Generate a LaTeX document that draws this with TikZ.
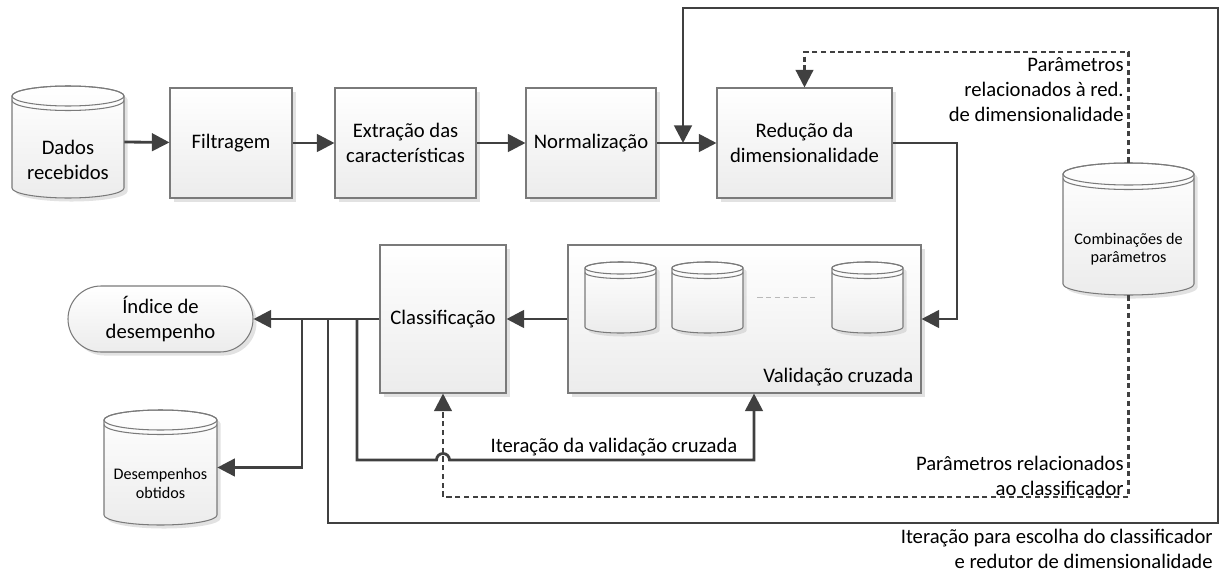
\documentclass[tikz,border=0pt]{standalone}
\usepackage{fontspec}
\setmainfont{Carlito}
\usetikzlibrary{arrows.meta,shadows,calc}

\definecolor{linha}{HTML}{404040}
\definecolor{borda}{HTML}{7A7A7A}

% cilindro (banco de dados): nome, x, y, largura, altura, raio y da tampa
\newcommand{\dbcyl}[6]{%
	\begin{scope}[shift={(#2,#3)}]
		\path[dbshape] (-#4/2,#5/2-#6) -- (-#4/2,-#5/2+#6)
			arc[start angle=180, end angle=360, x radius=#4/2, y radius=#6]
			-- (#4/2,#5/2-#6)
			arc[start angle=0, end angle=180, x radius=#4/2, y radius=#6] -- cycle;
		\draw[dbline] (0,#5/2-#6) ellipse[x radius=#4/2, y radius=#6];
		\draw[dbline] (-#4/2,#5/2-#6-0.09)
			arc[start angle=180, end angle=360, x radius=#4/2, y radius=#6];
	\end{scope}
	\node[minimum width=#4cm, minimum height=#5cm, inner sep=0pt] (#1) at (#2,#3) {};
}

\tikzset{
	sombra/.style={drop shadow={shadow xshift=2pt, shadow yshift=-2pt, fill=gray!45, opacity=0.5}},
	bloco/.style={rectangle, draw=borda, line width=0.6pt, top color=white, bottom color=gray!15,
		sombra, align=center, inner sep=2pt, font=\fontsize{11.75}{14.2}\selectfont},
	dbshape/.style={draw=borda, line width=0.6pt, top color=white, bottom color=gray!15, sombra},
	dbline/.style={draw=borda, line width=0.6pt},
	fluxo/.style={draw=linha, line width=1.6pt, -{Triangle[length=10pt, width=10pt]}},
	param/.style={draw=linha, line width=1.3pt, dash pattern=on 3pt off 2pt,
		-{Triangle[length=10pt, width=10pt]}},
	rotulo/.style={align=right, inner sep=0pt, font=\fontsize{11.75}{14.2}\selectfont},
	dbtexto/.style={align=center, inner sep=0pt, font=\fontsize{11.75}{14.2}\selectfont},
	dbpequeno/.style={align=center, inner sep=0pt, font=\fontsize{9.2}{10.4}\selectfont}
}

\begin{document}
\begin{tikzpicture}
			\useasboundingbox (0,0) rectangle (24.42,-11.46);

			% Cadeia de pre-processamento
			\dbcyl{dados}{1.36}{-2.84}{2.24}{2.24}{0.2}
			\node[dbtexto] (dados-txt) at ([yshift=-0.36cm]dados.center) {Dados\\recebidos};
			\node[bloco, minimum width=2.44cm, minimum height=2.2cm] (filtragem) at (4.62,-2.86) {Filtragem};
			\node[bloco, minimum width=2.82cm, minimum height=2.2cm] (extracao) at (8.11,-2.86) {Extração das\\características};
			\node[bloco, minimum width=2.6cm, minimum height=2.2cm] (normaliza) at (11.82,-2.86) {Normalização};
			\node[bloco, minimum width=3.5cm, minimum height=2.2cm] (reducao) at (16.09,-2.86) {Redução da\\dimensionalidade};

			% Classificacao e validacao cruzada
			\node[bloco, minimum width=2.52cm, minimum height=2.96cm] (classif) at (8.86,-6.38) {Classificação};
			\node[bloco, minimum width=7.06cm, minimum height=2.96cm] (validacao) at (14.89,-6.38) {};
			\node[rotulo, anchor=base east] (validacao-txt) at ($(validacao.south east)+(-0.16,0.22)$) {Validação cruzada};
			\dbcyl{v1}{12.41}{-5.95}{1.42}{1.42}{0.12}
			\dbcyl{v2}{14.15}{-5.95}{1.42}{1.42}{0.12}
			\dbcyl{vn}{17.35}{-5.95}{1.42}{1.42}{0.12}
			\draw[gray!55, line width=0.8pt, dash pattern=on 3pt off 2pt] ($(v2.east)+(0.28,0)$) -- ($(vn.west)+(-0.28,0)$);

			% Saidas
			\node[bloco, minimum width=3.7cm, minimum height=1.32cm, rounded corners=0.66cm] (indice) at (3.21,-6.38) {Índice de\\desempenho};
			\dbcyl{desemp}{3.21}{-9.35}{2.26}{2.3}{0.2}
			\node[dbpequeno] (desemp-txt) at ([yshift=-0.32cm]desemp.center) {Desempenhos\\obtidos};

			% Parametros
			\dbcyl{combina}{22.57}{-4.58}{2.62}{2.64}{0.22}
			\node[dbpequeno] (combina-txt) at ([yshift=-0.4cm]combina.center) {Combinações de\\parâmetros};

			% Pontos auxiliares
			\coordinate (j0) at (6.04,-6.38);
			\coordinate (j1) at (6.56,-6.38);
			\coordinate (j2) at (7.14,-6.38);
			\coordinate (hopA) at (8.73,-9.2);
			\coordinate (cantoB) at (15.08,-9.2);
			\coordinate (cantoC) at (19.14,-6.38);
			\coordinate (cantoD) at (24.36,-10.46);
			\coordinate (cantoE) at (13.66,-0.16);
			\coordinate (entrada) at (13.66,-2.86);
			\coordinate (topodash) at (16.09,-1.04);
			\coordinate (basedash) at (8.86,-9.94);

			% Fluxo principal
			\draw[fluxo] (dados.east) -- (filtragem);
			\draw[fluxo] (filtragem) -- (extracao);
			\draw[fluxo] (extracao) -- (normaliza);
			\draw[fluxo] (normaliza) -- (reducao);
			\draw[fluxo] (reducao.east) -| (cantoC) -- (validacao.east);
			\draw[fluxo] (validacao) -- (classif);
			\draw[fluxo] (classif) -- (indice);
			\draw[fluxo] (j0) |- (desemp.east);

			% Parametros relacionados (tracejado)
			\draw[param] (combina.north) |- (topodash) -- (reducao.north);
			\draw[param] (combina.south) |- (basedash) -- (classif.south);
			\node[rotulo, anchor=east] (param-red) at (22.48,-1.8) {Parâmetros\\relacionados à red.\\de dimensionalidade};
			\node[rotulo, anchor=east] (param-clf) at (22.48,-9.51) {Parâmetros relacionados\\ao classificador};

			% Iteracoes
			\draw[fluxo] (j2) |- (hopA) arc[start angle=180, end angle=0, radius=0.13]
				-- node[rotulo, pos=0.54, above=1.5pt] (iter-val) {Iteração da validação cruzada} (cantoB)
				-- (validacao.south -| cantoB);
			\draw[fluxo] (j1) |- (cantoD) |- (cantoE) -- (entrada);
			\node[rotulo, anchor=east] (iter-clf) at (24.26,-10.98) {Iteração para escolha do classificador\\e redutor de dimensionalidade};

		\end{tikzpicture}
\end{document}
